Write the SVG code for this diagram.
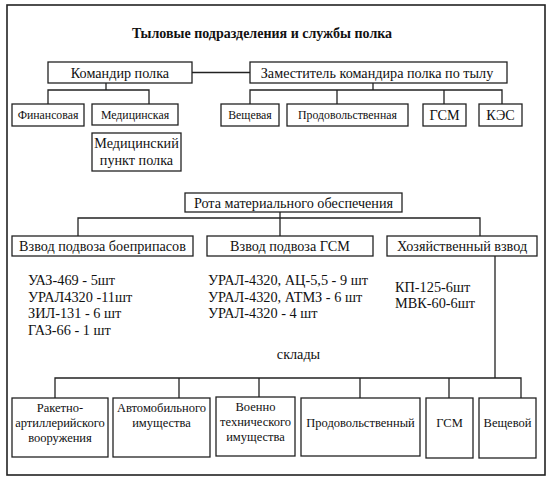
<svg xmlns="http://www.w3.org/2000/svg" width="555" height="488" viewBox="0 0 555 488" font-family="'Liberation Serif','Times New Roman','DejaVu Serif',serif">
<style>
rect{fill:#fff;stroke:#222;stroke-width:1.3}
.c path{fill:none;stroke:#222;stroke-width:1.3}
text{font-family:"Liberation Serif","Times New Roman","DejaVu Serif",serif;fill:#111;text-anchor:middle}
.t{font-size:14px;font-weight:bold}
.m{font-size:14.2px}
.s{font-size:11.8px}
.b{font-size:12.5px}
.l{font-size:14.3px;text-anchor:start}
</style>
<rect x="0" y="0" width="555" height="488" style="fill:#fff;stroke:none"/>
<rect id="frame" x="7" y="5" width="538" height="470" style="fill:none;stroke-width:1.6"/>
<text class="t" x="262" y="38">Тыловые подразделения и службы полка</text>
<g class="c">
<path d="M192 72.5H250"/>
<path d="M106 83V90M48 104V90H149V104"/>
<path d="M373 83V90M250 104V90H502V104M337 90V104M444 90V104"/>
<path d="M280 212V236M78 236V218H480V236"/>
<path d="M495 256V378M55 398V378H521V398M179 378V398M259 378V397M360 378V398M449 378V398"/>
</g>
<g id="n1"><rect x="48" y="62" width="144" height="21"/><text class="m" x="120" y="78">Командир полка</text></g>
<g id="n2"><rect x="250" y="62" width="257" height="21"/><text class="m" x="377" y="78">Заместитель командира полка по тылу</text></g>
<g id="n3"><rect x="12" y="104" width="72" height="22"/><text class="s" x="48" y="119">Финансовая</text></g>
<g id="n4"><rect x="92" y="104" width="86" height="21"/><text class="s" x="135" y="119">Медицинская</text></g>
<g id="n5"><rect x="92" y="133" width="89" height="38"/><text class="m" x="136.5" y="148">Медицинский</text><text class="m" x="136.5" y="165">пункт полка</text></g>
<g id="n6"><rect x="221" y="104" width="58" height="22"/><text class="s" x="250" y="119">Вещевая</text></g>
<g id="n7"><rect x="287" y="104" width="121" height="22"/><text class="s" x="347.5" y="119">Продовольственная</text></g>
<g id="n8"><rect x="423" y="104" width="43" height="22"/><text class="m" x="444.5" y="120">ГСМ</text></g>
<g id="n9"><rect x="479" y="104" width="43" height="22"/><text class="m" x="500.5" y="120">КЭС</text></g>
<g id="n10"><rect x="185" y="193" width="217" height="19"/><text class="m" x="293.5" y="208">Рота материального обеспечения</text></g>
<g id="n11"><rect x="12" y="236" width="181" height="20"/><text class="m" x="102.5" y="251">Взвод подвоза боеприпасов</text></g>
<g id="n12"><rect x="207" y="236" width="166" height="20"/><text class="m" x="290" y="251">Взвод подвоза ГСМ</text></g>
<g id="n13"><rect x="387" y="236" width="150" height="20"/><text class="m" x="462" y="251">Хозяйственный взвод</text></g>
<g id="list1"><text class="l" x="28" y="285">УАЗ-469 - 5шт</text><text class="l" x="28" y="302">УРАЛ4320 -11шт</text><text class="l" x="28" y="318">ЗИЛ-131 - 6 шт</text><text class="l" x="28" y="335">ГАЗ-66 - 1 шт</text></g>
<g id="list2"><text class="l" x="208" y="285">УРАЛ-4320, АЦ-5,5 - 9 шт</text><text class="l" x="208" y="302">УРАЛ-4320, АТМЗ - 6 шт</text><text class="l" x="208" y="318">УРАЛ-4320 - 4 шт</text></g>
<g id="list3"><text class="l" x="395" y="292">КП-125-6шт</text><text class="l" x="395" y="308">МВК-60-6шт</text></g>
<text class="m" x="298.5" y="359">склады</text>
<g id="b1"><rect x="12" y="398" width="96" height="59"/><text class="b" x="60" y="412">Ракетно-</text><text class="b" x="60" y="427">артиллерийского</text><text class="b" x="60" y="442">вооружения</text></g>
<g id="b2"><rect x="113" y="398" width="97" height="59"/><text class="b" x="161.5" y="412">Автомобильного</text><text class="b" x="161.5" y="427">имущества</text></g>
<g id="b3"><rect x="216" y="397" width="79" height="59"/><text class="b" x="255.5" y="411">Военно</text><text class="b" x="255.5" y="426">технического</text><text class="b" x="255.5" y="441">имущества</text></g>
<g id="b4"><rect x="301" y="398" width="119" height="58"/><text class="b" x="360.5" y="427">Продовольственный</text></g>
<g id="b5"><rect x="426" y="398" width="47" height="60"/><text class="b" x="449.5" y="427">ГСМ</text></g>
<g id="b6"><rect x="479" y="398" width="57" height="60"/><text class="b" x="507.5" y="427">Вещевой</text></g>
</svg>
